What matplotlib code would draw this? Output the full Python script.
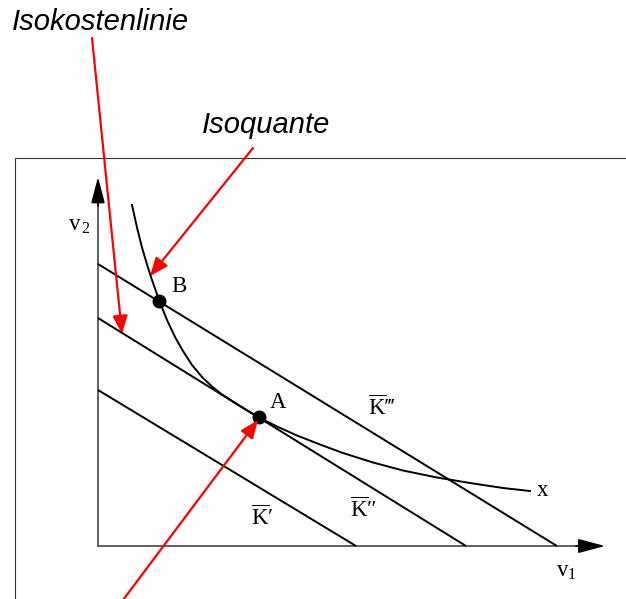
import matplotlib.pyplot as plt

plt.rcParams["mathtext.fontset"] = "custom"
plt.rcParams["mathtext.rm"] = "Liberation Serif"
plt.rcParams["mathtext.it"] = "Liberation Serif:italic"

# isocost lines: (intercept on v1, intercept on v2)
iso_cost = [(258, 156), (368, 228), (459, 282)]
iso_cost_labels = [r"$\overline{\mathrm{K}}$′", r"$\overline{\mathrm{K}}$″", r"$\overline{\mathrm{K}}$‴"]
iso_cost_label_pos = [(164, 28), (265, 36), (284, 138)]

# isoquant x
quant_v1 = [34, 39, 44, 49, 54, 61, 69, 77, 85, 94, 104, 114, 124, 141, 161,
            179, 199, 222, 245, 275, 305, 339, 372, 405, 432]
quant_v2 = [341, 318.5, 298.5, 281.5, 266, 246, 226, 209, 195, 181, 169, 159.5, 151.5,
            140.5, 128.5, 119.5, 110.5, 101.5, 93, 83.5, 75.5, 68.5, 63, 58, 55]

# tangency point A and point B
pts = {"A": (161, 129), "B": (61, 245.5)}

fig = plt.figure(figsize=(6.26, 5.99), dpi=100)
ax = fig.add_axes([0, 0, 1, 1])
ax.set_xlim(-98, 528)
ax.set_ylim(-53, 546)
ax.axis("off")

# outer frame
ax.plot([-83, -83, 540], [-60, 388, 388], color="#333333", lw=0.8, clip_on=False)

# coordinate axes
ax.plot([0, 0], [0, 350], color="#444444", lw=1.2)
ax.plot([0, 490], [0, 0], color="#444444", lw=1.2)
ax.annotate("", xy=(0, 369), xytext=(0, 340),
            arrowprops=dict(arrowstyle="-|>,head_length=1.6,head_width=0.42",
                            color="black", lw=1.2, shrinkA=0, shrinkB=0))
ax.annotate("", xy=(507, 0), xytext=(478, 0),
            arrowprops=dict(arrowstyle="-|>,head_length=1.65,head_width=0.44",
                            color="black", lw=1.2, shrinkA=0, shrinkB=0))

serif = dict(family="Liberation Serif", fontsize=16.5, ha="center", va="center")
ax.text(-19, 321, r"$\mathrm{v}_{\,2}$", **serif)
ax.text(468, -26, r"$\mathrm{v}_{1}$", **serif)

for (a, b), lab, (lx, ly) in zip(iso_cost, iso_cost_labels, iso_cost_label_pos):
    ax.plot([0, a], [b, 0], color="black", lw=1.4, solid_capstyle="butt")
    ax.text(lx, ly, lab, **serif)

ax.plot(quant_v1, quant_v2, color="black", lw=1.4, solid_joinstyle="round")
ax.text(445, 56, "x", **serif)

for name, (px, py) in pts.items():
    ax.plot(px, py, "o", color="black", ms=9)
ax.text(81, 259, "B", **serif)
ax.text(180, 143, "A", **serif)

# red pointer arrows with captions
red = dict(arrowstyle="-|>,head_length=1.1,head_width=0.45", color="red", lw=1.6,
           shrinkA=0, shrinkB=0)
ax.annotate("", xy=(24, 212), xytext=(-6, 508), arrowprops=red, annotation_clip=False)
ax.annotate("", xy=(52, 270), xytext=(155, 398), arrowprops=red, annotation_clip=False)
ax.annotate("", xy=(160, 126), xytext=(22, -58), arrowprops=red, annotation_clip=False)

sans = dict(family="Liberation Sans", style="italic", fontsize=21, ha="center", va="center")
ax.text(2, 524, "Isokostenlinie", **sans)
ax.text(168, 421, "Isoquante", **sans)

fig.savefig("out.png", dpi=100)
